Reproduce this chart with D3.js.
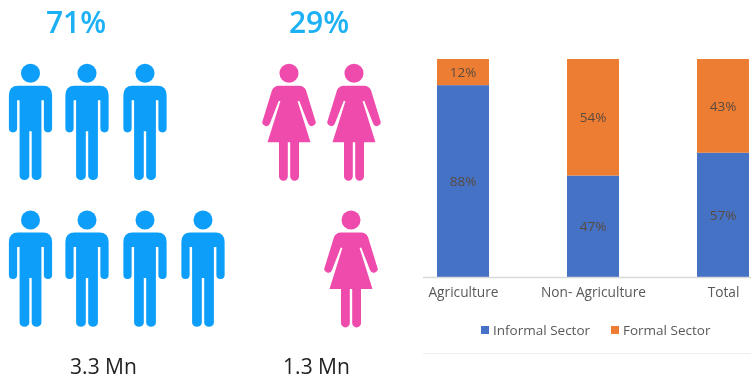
<!DOCTYPE html>
<html><head><meta charset="utf-8">
<script src="https://cdn.jsdelivr.net/npm/d3@7/dist/d3.min.js"></script>
<style>html,body{margin:0;padding:0;background:#fff}svg{display:block}text{font-family:"Open Sans",sans-serif}</style>
</head><body><svg id="c" width="751" height="381"></svg>
<script>
const categories = ["Agriculture", "Non- Agriculture", "Total"];
const informalSector = [88, 47, 57];
const formalSector = [12, 54, 43];
const seriesNames = ["Informal Sector", "Formal Sector"];
const seriesColors = ["#4472C4", "#ED7D31"];
const menShare = "71%", womenShare = "29%";
const menCount = "3.3 Mn", womenCount = "1.3 Mn";
const menRows = [3, 4];
const womenRows = [[0, 1], [1]];

const svg = d3.select("#c");
const defs = svg.append("defs");
defs.append("filter").attr("id", "soft").append("feGaussianBlur").attr("stdDeviation", 0.5);

const manPath = "M-12.5,12.4H12.5Q21.6,12.4 21.6,22V55A4.1,4.1 0 0 1 13.4,55V27H10.9V103A5,5 0 0 1 1.2,103V58H-1.2V103A5,5 0 0 1 -10.9,103V27H-13.4V55A4.1,4.1 0 0 1 -21.6,55V22Q-21.6,12.4 -12.5,12.4Z";
const womanPath = "M-10,12.4H10Q15,12.4 17,17L26.2,47A3.9,3.9 0 0 1 19.2,50.5L10.2,27.5 8.6,28 21.5,69H10V103A4.4,4.4 0 0 1 1.2,103V69H-1.2V103A4.4,4.4 0 0 1 -10,103V69H-21.5L-8.6,28 -10.2,27.5 -19.2,50.5A3.9,3.9 0 0 1 -26.2,47L-17,17Q-15,12.4 -10,12.4Z";

const root = svg.append("g").attr("filter", "url(#soft)");

const rowY = d3.scaleOrdinal().domain([0, 1]).range([73.3, 220]);
const manX = d3.scaleOrdinal().domain([0, 1, 2, 3]).range([30.5, 87, 145, 203]);
const womanX = d3.scaleOrdinal().domain(["0-0", "0-1", "1-1"]).range([289, 354, 351]);

function person(x, y, d, color) {
  const g = root.append("g").attr("transform", `translate(${x},${y})`).attr("fill", color);
  g.append("circle").attr("r", 9.5);
  g.append("path").attr("d", d);
}
menRows.forEach((n, r) => d3.range(n).forEach(i => person(manX(i), rowY(r), manPath, "#0B9EFA")));
womenRows.forEach((cols, r) => cols.forEach(c => person(womanX(`${r}-${c}`), rowY(r), womanPath, "#EE4BAC")));

const big = (x, t) => root.append("text").attr("x", x).attr("y", 33).attr("text-anchor", "middle")
  .attr("font-size", 30).attr("font-weight", 600).attr("fill", "#1CB0F4").text(t);
big(76, menShare); big(319, womenShare);
const cnt = (x, t) => root.append("text").attr("x", x).attr("y", 374).attr("text-anchor", "middle")
  .attr("font-size", 21).attr("fill", "#222").text(t);
cnt(103.5, menCount); cnt(316.5, womenCount);

// stacked bars
const rows = categories.map((c, i) => ({cat: c, [seriesNames[0]]: informalSector[i], [seriesNames[1]]: formalSector[i]}));
const stack = d3.stack().keys(seriesNames).offset(d3.stackOffsetExpand)(rows);
const x = d3.scalePoint().domain(categories).range([463, 723]);
const y = d3.scaleLinear().domain([0, 1]).range([277, 59]);
const bw = 52;
stack.forEach((s, si) => {
  s.forEach((d, i) => {
    root.append("rect").attr("x", x(categories[i]) - bw / 2).attr("width", bw)
      .attr("y", y(d[1])).attr("height", y(d[0]) - y(d[1])).attr("fill", seriesColors[si]);
    const v = si === 0 ? informalSector[i] : formalSector[i];
    root.append("text").attr("x", x(categories[i])).attr("y", (y(d[0]) + y(d[1])) / 2 + 5)
      .attr("text-anchor", "middle").attr("font-size", 13.5).attr("fill", "#5a4a40").text(v + "%");
  });
});
root.append("line").attr("x1", 423).attr("x2", 751).attr("y1", 277.5).attr("y2", 277.5).attr("stroke", "#d9d9d9").attr("stroke-width", 1.5);
root.append("line").attr("x1", 423).attr("x2", 751).attr("y1", 353.5).attr("y2", 353.5).attr("stroke", "#eeeeee");

const ax = svg.append("g").attr("filter", "url(#soft)").attr("transform", "translate(0,277)")
  .call(d3.axisBottom(x).tickSize(0).tickPadding(10));
ax.select(".domain").remove();
ax.selectAll("text").attr("font-size", 13.7).attr("fill", "#595959").attr("font-family", '"Open Sans",sans-serif');

const legendX = [481, 611], legendTextX = [493, 623];
seriesNames.forEach((n, i) => {
  root.append("rect").attr("x", legendX[i]).attr("y", 326).attr("width", 8).attr("height", 8).attr("fill", seriesColors[i]);
  root.append("text").attr("x", legendTextX[i]).attr("y", 335).attr("font-size", 13.5).attr("fill", "#595959").text(n);
});
</script></body></html>
